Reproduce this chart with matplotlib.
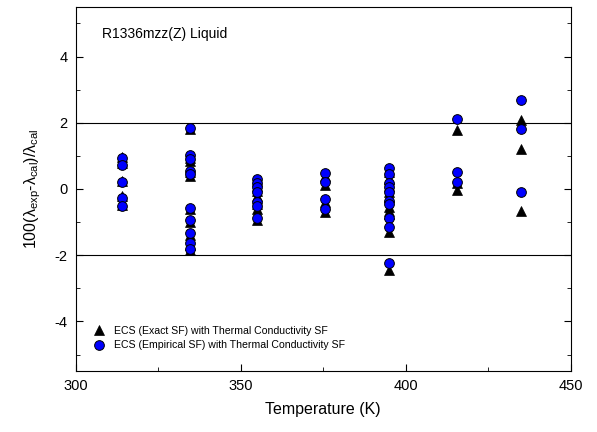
import matplotlib
matplotlib.use("Agg")
import matplotlib.pyplot as plt
from matplotlib.ticker import MultipleLocator

plt.rcParams.update({
    "font.family": ["Liberation Sans", "DejaVu Sans"],
    "mathtext.fontset": "custom",
    "mathtext.rm": "Liberation Sans",
    "mathtext.it": "Liberation Sans:italic",
    "axes.unicode_minus": False,
})

# isotherm temperatures (K)
temps = [314.0, 334.5, 355.0, 375.5, 395.0, 415.5, 435.0]

# deviations (%) per isotherm
exact_dev = [
    [0.98, 0.78, 0.25, -0.22, -0.47],
    [1.80, 0.95, 0.85, 0.50, 0.40, -0.60, -1.00, -1.38, -1.70, -1.85],
    [0.25, 0.10, -0.05, -0.20, -0.45, -0.60, -0.95],
    [0.40, 0.12, -0.38, -0.70],
    [0.50, 0.30, 0.10, -0.10, -0.25, -0.55, -0.65, -0.75, -1.30, -2.45],
    [1.78, 0.18, -0.03],
    [2.08, 1.22, -0.65],
]
empirical_dev = [
    [0.95, 0.72, 0.22, -0.28, -0.52],
    [1.85, 1.02, 0.90, 0.55, 0.45, -0.56, -0.94, -1.33, -1.64, -1.82],
    [0.30, 0.18, 0.05, -0.10, -0.38, -0.50, -0.88],
    [0.47, 0.20, -0.30, -0.60],
    [0.62, 0.45, 0.19, 0.05, -0.08, -0.35, -0.46, -0.88, -1.15, -2.24],
    [2.12, 0.50, 0.22],
    [2.68, 1.81, -0.10],
]

x_exact = [t for t, g in zip(temps, exact_dev) for _ in g]
y_exact = [v for g in exact_dev for v in g]
x_emp = [t for t, g in zip(temps, empirical_dev) for _ in g]
y_emp = [v for g in empirical_dev for v in g]

fig = plt.figure(figsize=(5.97, 4.32), dpi=100)
ax = fig.add_axes([0.127, 0.141, 0.829, 0.843])

ax.axhline(2, color="black", lw=0.8, zorder=1)
ax.axhline(-2, color="black", lw=0.8, zorder=1)

ax.plot(x_exact, y_exact, "^", color="black", markersize=7.5, markeredgewidth=0.5,
        label="ECS (Exact SF) with Thermal Conductivity SF", zorder=2)
ax.plot(x_emp, y_emp, "o", markerfacecolor="#0000FF", markeredgecolor="black",
        markersize=7, markeredgewidth=0.7,
        label="ECS (Empirical SF) with Thermal Conductivity SF", zorder=3)

ax.set_xlim(300, 450)
ax.set_ylim(-5.5, 5.5)
ax.xaxis.set_major_locator(MultipleLocator(50))
ax.xaxis.set_minor_locator(MultipleLocator(25))
ax.yaxis.set_major_locator(MultipleLocator(2))
ax.yaxis.set_minor_locator(MultipleLocator(1))
ax.tick_params(which="both", direction="in", right=True, top=False, labelsize=10.5)
ax.tick_params(which="major", length=5, pad=6)
ax.tick_params(which="minor", length=3)

ax.set_xlabel("Temperature (K)", fontsize=11.5, labelpad=6)
ax.set_ylabel("100(λ$_{\\mathrm{exp}}$-λ$_{\\mathrm{cal}}$)/λ$_{\\mathrm{cal}}$", fontsize=11.5,
              labelpad=8)

ax.text(0.052, 0.915, "R1336mzz(Z) Liquid", transform=ax.transAxes, fontsize=10)

ax.legend(loc="lower left", bbox_to_anchor=(0.025, 0.045), frameon=False, fontsize=7.6,
          handletextpad=0.7, labelspacing=0.45, borderaxespad=0.0, handlelength=1.3)

fig.savefig("out.png", dpi=100)
plt.close(fig)
